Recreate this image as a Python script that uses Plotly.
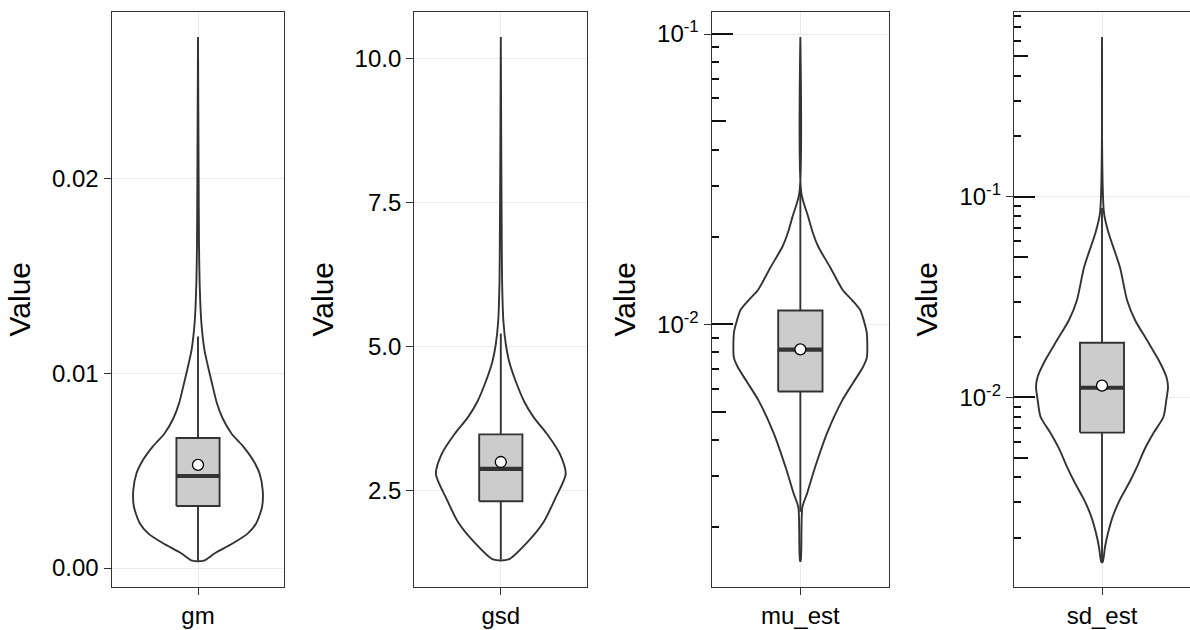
import plotly.graph_objects as go

# ---------------- data ----------------
CATEGORIES = ["gm", "gsd", "mu_est", "sd_est"]

# violin outlines: value and relative density (1 = widest point)
GM_VIOLIN_Y = [0.000375, 0.00076, 0.00127, 0.00178, 0.0023, 0.00315, 0.0040, 0.00487,
               0.00555, 0.00624, 0.0069, 0.0077, 0.0085, 0.0093, 0.0100, 0.0112, 0.0127,
               0.0147, 0.0168, 0.0199, 0.0273]
GM_VIOLIN_D = [0.088, 0.26, 0.54, 0.77, 0.90, 0.99, 1.0, 0.95, 0.85, 0.70, 0.52, 0.38,
               0.29, 0.23, 0.18, 0.10, 0.05, 0.025, 0.015, 0.01, 0.0]

GSD_VIOLIN_Y = [1.31, 1.61, 1.96, 2.37, 2.79, 3.14, 3.49, 3.77, 4.05, 4.40, 4.74, 5.02,
                5.44, 6.14, 6.83, 8.23, 10.37]
GSD_VIOLIN_D = [0.12, 0.41, 0.66, 0.84, 1.0, 0.91, 0.71, 0.51, 0.36, 0.23, 0.13, 0.08,
                0.04, 0.02, 0.015, 0.008, 0.0]

MU_VIOLIN_Y = [0.00153, 0.00234, 0.00261, 0.00321, 0.00421, 0.00547, 0.00627, 0.00711,
               0.00769, 0.00931, 0.0100, 0.0112, 0.0121, 0.0131, 0.0157, 0.0185, 0.0206,
               0.0234, 0.0283, 0.0977]
MU_VIOLIN_D = [0.005, 0.03, 0.10, 0.22, 0.40, 0.63, 0.79, 0.94, 1.0, 1.0, 0.97, 0.90,
               0.78, 0.64, 0.45, 0.27, 0.19, 0.12, 0.015, 0.0]

SD_VIOLIN_Y = [0.00151, 0.00179, 0.00210, 0.00253, 0.00308, 0.00374, 0.00450, 0.00546,
               0.00664, 0.00798, 0.00971, 0.01127, 0.01265, 0.0153, 0.0193, 0.0243,
               0.0305, 0.0447, 0.0659, 0.0830, 0.625]
SD_VIOLIN_D = [0.01, 0.045, 0.09, 0.16, 0.27, 0.41, 0.53, 0.64, 0.78, 0.93, 0.975, 1.0,
               0.975, 0.86, 0.68, 0.50, 0.38, 0.27, 0.10, 0.03, 0.0]

# box statistics
Q1 = [0.00319, 2.32, 0.00587, 0.00667]
MEDIAN = [0.00473, 2.88, 0.00818, 0.01116]
Q3 = [0.00668, 3.48, 0.01116, 0.0187]
LOWER = [0.000375, 1.31, 0.00226, 0.00151]
UPPER = [0.0119, 5.23, 0.0293, 0.0879]
MEAN = [0.0053, 3.0, 0.0082, 0.01143]

# axis ticks
GM_TICKS = [0.0, 0.01, 0.02]
GM_TICKTEXT = ["0.00", "0.01", "0.02"]
GSD_TICKS = [2.5, 5.0, 7.5, 10.0]
GSD_TICKTEXT = ["2.5", "5.0", "7.5", "10.0"]
LOG_TICKS = [0.01, 0.1]
LOG_TICKTEXT = ["10<sup>-2</sup>", "10<sup>-1</sup>"]
MU_SHORT = [0.002, 0.003, 0.004, 0.006, 0.007, 0.008, 0.009,
            0.02, 0.03, 0.04, 0.06, 0.07, 0.08, 0.09]
MU_MID = [0.005, 0.05]
SD_SHORT = [0.002, 0.003, 0.004, 0.006, 0.007, 0.008, 0.009,
            0.02, 0.03, 0.04, 0.06, 0.07, 0.08, 0.09,
            0.2, 0.3, 0.4, 0.6, 0.7, 0.8]
SD_MID = [0.005, 0.05, 0.5]
LONG = [0.01, 0.1]

# axis ranges (linear values / log10 for log axes)
RANGES = [[-0.000961, 0.0286], [0.838, 10.808], [-2.904, -0.923], [-2.944, -0.0778]]
AXTYPES = ["linear", "linear", "log", "log"]

# ---------------- styling / layout ----------------
W, H = 1190, 630
PANEL_X = [(111.7, 284.3), (414.3, 587.3), (711.7, 889.0), (1014.0, 1190.0)]
PANEL_Y = (11.7, 586.7)
DARK = "#333333"
BOX_FILL = "#cccccc"
GRID = "#ebebeb"
FONT = "Liberation Sans, Arial, sans-serif"
VIOLIN_HALF = 0.45
BOX_HALF = 0.15
LW = 1.9

violins = [(GM_VIOLIN_Y, GM_VIOLIN_D), (GSD_VIOLIN_Y, GSD_VIOLIN_D),
           (MU_VIOLIN_Y, MU_VIOLIN_D), (SD_VIOLIN_Y, SD_VIOLIN_D)]

fig = go.Figure()
layout = dict(
    width=W, height=H, margin=dict(l=0, r=0, t=0, b=0),
    paper_bgcolor="white", plot_bgcolor="white", showlegend=False,
    font=dict(family=FONT, color="black"),
)

ydom = [1 - PANEL_Y[1] / H, 1 - PANEL_Y[0] / H]

for i in range(4):
    n = i + 1
    xa, ya = f"x{n}", f"y{n}"
    vy, vd = violins[i]
    # violin outline
    xs = [1 - VIOLIN_HALF * d for d in vd] + [1 + VIOLIN_HALF * d for d in reversed(vd)] + [1 - VIOLIN_HALF * vd[0]]
    ys = list(vy) + list(reversed(vy)) + [vy[0]]
    fig.add_trace(go.Scatter(x=xs, y=ys, mode="lines", fill="toself", fillcolor="white",
                             line=dict(color=DARK, width=LW, shape="spline", smoothing=0.7),
                             xaxis=xa, yaxis=ya, hoverinfo="skip"))
    # whiskers
    fig.add_trace(go.Scatter(x=[1, 1, None, 1, 1], y=[LOWER[i], Q1[i], None, Q3[i], UPPER[i]],
                             mode="lines", line=dict(color=DARK, width=LW),
                             xaxis=xa, yaxis=ya, hoverinfo="skip"))
    # box
    fig.add_trace(go.Scatter(x=[1 - BOX_HALF, 1 + BOX_HALF, 1 + BOX_HALF, 1 - BOX_HALF, 1 - BOX_HALF],
                             y=[Q1[i], Q1[i], Q3[i], Q3[i], Q1[i]],
                             mode="lines", fill="toself", fillcolor=BOX_FILL,
                             line=dict(color=DARK, width=LW),
                             xaxis=xa, yaxis=ya, hoverinfo="skip"))
    # median
    fig.add_trace(go.Scatter(x=[1 - BOX_HALF, 1 + BOX_HALF], y=[MEDIAN[i], MEDIAN[i]],
                             mode="lines", line=dict(color=DARK, width=4.2),
                             xaxis=xa, yaxis=ya, hoverinfo="skip"))
    # mean
    fig.add_trace(go.Scatter(x=[1], y=[MEAN[i]], mode="markers",
                             marker=dict(size=11, color="white", line=dict(color="black", width=1.3)),
                             xaxis=xa, yaxis=ya, hoverinfo="skip"))

    x0, x1 = PANEL_X[i]
    layout[f"xaxis{n}"] = dict(
        domain=[x0 / W, x1 / W], range=[0.4, 1.6], anchor=ya,
        tickmode="array", tickvals=[1], ticktext=[CATEGORIES[i]],
        ticks="outside", ticklen=7, tickwidth=1.4, tickcolor=DARK,
        showline=True, linecolor=DARK, linewidth=1.4, mirror=True,
        showgrid=True, gridcolor=GRID, gridwidth=1.4, zeroline=False,
        tickfont=dict(size=24, color="black", family=FONT), fixedrange=True,
    )
    if i == 0:
        tv, tt = GM_TICKS, GM_TICKTEXT
    elif i == 1:
        tv, tt = GSD_TICKS, GSD_TICKTEXT
    else:
        tv, tt = LOG_TICKS, LOG_TICKTEXT
    yax = dict(
        domain=ydom, range=RANGES[i], type=AXTYPES[i], anchor=xa,
        tickmode="array", tickvals=tv, ticktext=tt,
        ticks="outside", ticklen=7, tickwidth=1.4, tickcolor=DARK,
        showline=True, linecolor=DARK, linewidth=1.4, mirror=(i < 3),
        showgrid=True, gridcolor=GRID, gridwidth=1.4, zeroline=False,
        tickfont=dict(size=24, color="black", family=FONT), fixedrange=True,
        title=dict(text="Value", font=dict(size=30, color="black", family=FONT), standoff=12),
    )
    if i >= 2:
        yax["minor"] = dict(tickmode="array", tickvals=(MU_SHORT if i == 2 else SD_SHORT),
                            ticks="inside", ticklen=7, tickwidth=1.9, tickcolor="#111111",
                            showgrid=False)
    layout[f"yaxis{n}"] = yax

# extra overlaying axes for the mid / long log ticks (annotation_logticks look)
extra = 5
for i in (2, 3):
    n = i + 1
    for vals, ln in ((MU_MID if i == 2 else SD_MID, 14), (LONG, 21)):
        layout[f"yaxis{extra}"] = dict(
            overlaying=f"y{n}", anchor=f"x{n}", side="left", type="log", range=RANGES[i],
            tickmode="array", tickvals=vals, ticks="inside", ticklen=ln, tickwidth=1.9,
            tickcolor="#111111", showticklabels=False, showgrid=False, showline=False,
            zeroline=False, fixedrange=True,
        )
        fig.add_trace(go.Scatter(x=[None], y=[None], mode="markers", xaxis=f"x{n}",
                                 yaxis=f"y{extra}", hoverinfo="skip"))
        extra += 1

fig.update_layout(**layout)
fig.write_html("out.html", config={"displayModeBar": False},
               post_script="document.body.style.margin='0';document.body.style.overflow='hidden';")
